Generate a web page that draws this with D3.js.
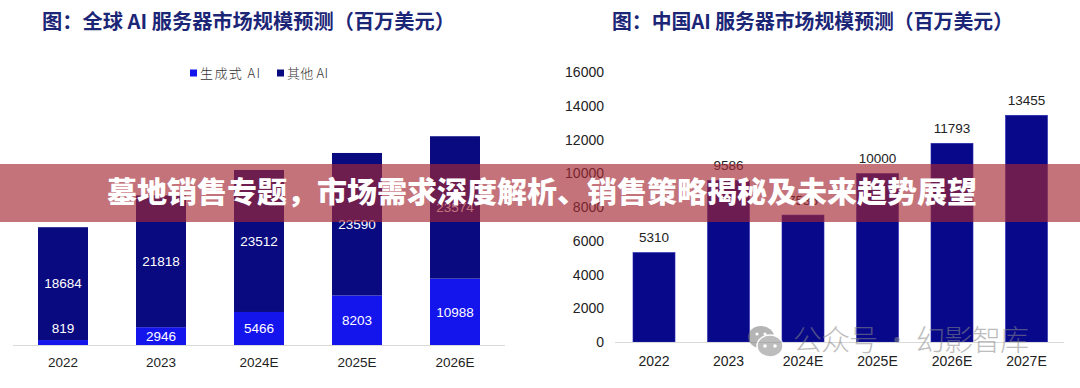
<!DOCTYPE html>
<html><head><meta charset="utf-8">
<script src="https://cdn.jsdelivr.net/npm/d3@7"></script>
<style>
html,body{margin:0;padding:0;background:#fff;}
svg{display:block;}
</style></head>
<body>
<svg id="c" width="1080" height="388"></svg>
<script>
// ---- data ----
const globalYears = ["2022","2023","2024E","2025E","2026E"];
const genAI = [819, 2946, 5466, 8203, 10988];
const otherAI = [18684, 21818, 23512, 23590, 23574];
const chinaYears = ["2022","2023","2024E","2025E","2026E","2027E"];
const chinaValues = [5310, 9586, 7536, 10000, 11793, 13455];
const chinaTicks = [0,2000,4000,6000,8000,10000,12000,14000,16000];
const legendLabels = ["生成式 AI","其他 AI"];
const titleLeft = "图：全球 AI 服务器市场规模预测（百万美元）";
const titleRight = "图：中国AI 服务器市场规模预测（百万美元）";
const bannerText = "墓地销售专题，市场需求深度解析、销售策略揭秘及未来趋势展望";
const watermark = "公众号 · 幻影智库";

const svg = d3.select("#c");
const numFont = "'Liberation Sans', Arial, sans-serif";
const cjk = "'Noto Sans CJK SC', sans-serif";
const cGen = "#1414ec", cOther = "#0a0a80", cChina = "#08088a";

// ---- titles ----
svg.append("text").attr("x",42).attr("y",29).text(titleLeft)
  .attr("font-family",cjk).attr("font-weight",700).attr("font-size",20).attr("fill","#1c2677")
  .attr("textLength",413).attr("lengthAdjust","spacingAndGlyphs");
svg.append("text").attr("x",612).attr("y",29).text(titleRight)
  .attr("font-family",cjk).attr("font-weight",700).attr("font-size",20).attr("fill","#1c2677")
  .attr("textLength",401).attr("lengthAdjust","spacingAndGlyphs");

// ---- left: stacked bars ----
const xL = d3.scaleBand().domain(globalYears).range([14,504]).paddingInner(0.49).paddingOuter(0.245);
const yL = d3.scaleLinear().domain([0,35000]).range([345,345-35000*0.00604]);
const stackData = globalYears.map((y,i)=>({year:y, gen:genAI[i], other:otherAI[i]}));
const series = d3.stack().keys(["gen","other"])(stackData);
const colors = {gen:cGen, other:cOther};
const gL = svg.append("g");
series.forEach(s=>{
  gL.selectAll(null).data(s).enter().append("rect")
    .attr("x",d=>xL(d.data.year)).attr("width",xL.bandwidth())
    .attr("y",d=>yL(d[1])).attr("height",d=>yL(d[0])-yL(d[1]))
    .attr("fill",colors[s.key]);
});
series.forEach(s=>{
  gL.selectAll(null).data(s).enter().append("text")
    .attr("x",d=>xL(d.data.year)+xL.bandwidth()/2)
    .attr("y",d=>{
      const h = yL(d[0])-yL(d[1]);
      const c = (yL(d[0])+yL(d[1]))/2;
      return h < 12 ? yL(d[0]) - 17 : c;
    })
    .attr("dy","0.36em").attr("text-anchor","middle")
    .attr("font-family",numFont).attr("font-size",13.5).attr("fill","#fff")
    .text(d=>d[1]-d[0]);
});
// baseline
gL.append("line").attr("x1",13).attr("x2",505).attr("y1",345.5).attr("y2",345.5).attr("stroke","#d9d9d9");
// x axis labels
const axL = d3.axisBottom(xL).tickSize(0).tickPadding(0);
const gAxL = svg.append("g").attr("transform","translate(0,345)").call(axL);
gAxL.select(".domain").remove();
gAxL.selectAll("text").attr("y",17).attr("dy","0.36em")
  .attr("font-family",numFont).attr("font-size",13.5).attr("fill","#222");

// legend
const lg = svg.append("g");
const legendX = [190, 277];
const legendW = [60, 41];
legendLabels.forEach((t,i)=>{
  lg.append("rect").attr("x",legendX[i]).attr("y",69.5).attr("width",7).attr("height",7)
    .attr("fill", i===0?cGen:cOther);
  lg.append("text").attr("x",legendX[i]+10).attr("y",73).attr("dy","0.36em").text(t)
    .attr("font-family","'Noto Sans CJK SC', sans-serif").attr("font-weight",300)
    .attr("font-size",13).attr("fill","#333")
    .attr("textLength",legendW[i]).attr("lengthAdjust","spacing");
});

// ---- right: simple bars ----
const xR = d3.scaleBand().domain(chinaYears).range([616.75,1063.75]).paddingInner(0.436).paddingOuter(0.218);
const yR = d3.scaleLinear().domain([0,16000]).range([342,342-16000*0.01685]);
const gR = svg.append("g");
gR.selectAll(null).data(chinaValues).enter().append("rect")
  .attr("x",(d,i)=>xR(chinaYears[i])).attr("width",xR.bandwidth())
  .attr("y",d=>yR(d)).attr("height",d=>yR(0)-yR(d)).attr("fill",cChina)
  .attr("stroke","#2a2ab0").attr("stroke-width",0.6);
gR.selectAll(null).data(chinaValues).enter().append("text")
  .attr("x",(d,i)=>xR(chinaYears[i])+xR.bandwidth()/2)
  .attr("y",d=>yR(d)-15).attr("dy","0.36em").attr("text-anchor","middle")
  .attr("font-family",numFont).attr("font-size",13.5).attr("fill","#222").text(d=>d);
gR.append("line").attr("x1",615).attr("x2",1064).attr("y1",342.5).attr("y2",342.5).attr("stroke","#d9d9d9");
const ayR = d3.axisLeft(yR).tickValues(chinaTicks).tickSize(0).tickPadding(0).tickFormat(d3.format("d"));
const gAyR = svg.append("g").attr("transform","translate(604,0)").call(ayR);
gAyR.select(".domain").remove();
gAyR.selectAll("text").attr("font-family",numFont).attr("font-size",14).attr("fill","#222");
const axR = d3.axisBottom(xR).tickSize(0).tickPadding(0);
const gAxR = svg.append("g").attr("transform","translate(0,342)").call(axR);
gAxR.select(".domain").remove();
gAxR.selectAll("text").attr("y",19).attr("dy","0.36em")
  .attr("font-family",numFont).attr("font-size",14).attr("fill","#222");

// ---- watermark ----
const wm = svg.append("g").attr("opacity",0.55);
wm.append("ellipse").attr("cx",761).attr("cy",337).attr("rx",13).attr("ry",11).attr("fill","#777");
wm.append("ellipse").attr("cx",770).attr("cy",346).attr("rx",13).attr("ry",11).attr("fill","#888").attr("stroke","#fff").attr("stroke-width",1.5);
[[765,346],[775,346]].forEach(p=>wm.append("circle").attr("cx",p[0]).attr("cy",p[1]).attr("r",1.8).attr("fill","#fff"));
[[757,334],[765,334]].forEach(p=>wm.append("circle").attr("cx",p[0]).attr("cy",p[1]).attr("r",1.6).attr("fill","#fff"));
wm.append("text").attr("x",793).attr("y",341).attr("dy","0.36em").text(watermark)
  .attr("font-family",cjk).attr("font-weight",300).attr("font-size",29).attr("fill","#888")
  .attr("textLength",236);

// ---- banner ----
svg.append("rect").attr("x",0).attr("y",164).attr("width",1080).attr("height",58)
  .attr("fill","rgb(164,40,52)").attr("fill-opacity",0.65);
svg.append("text").attr("x",542).attr("y",193).attr("dy","0.36em").attr("text-anchor","middle")
  .text(bannerText).attr("font-family",cjk).attr("font-weight",900).attr("font-size",29)
  .attr("fill","#fff").attr("textLength",870).attr("lengthAdjust","spacingAndGlyphs");
</script>
</body></html>
